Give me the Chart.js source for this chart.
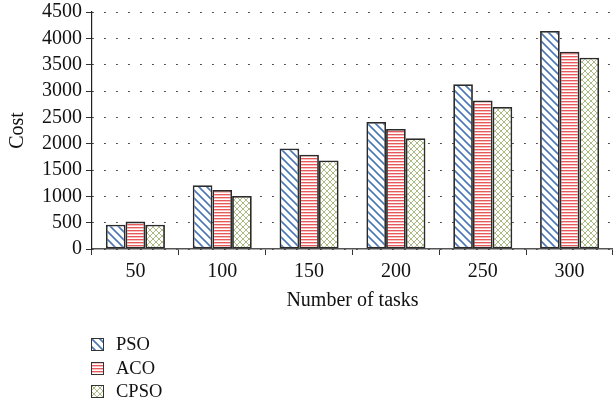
<!DOCTYPE html>
<html>
<head>
<meta charset="utf-8">
<script src="https://cdn.jsdelivr.net/npm/chart.js@4/dist/chart.umd.min.js"></script>
<style>
  html, body { margin: 0; padding: 0; background: #fff; overflow: hidden; }
  #wrap { position: relative; width: 613px; height: 411px; overflow: hidden; }
  #chart { position: absolute; left: 0; top: -4px; }
  #legend { position: absolute; left: 91px; top: 333px; font-family: "Liberation Serif", serif; font-size: 18.5px; color: #111; }
  .item { display: flex; align-items: center; height: 23.5px; }
  .item canvas { width: 13px; height: 13px; margin-right: 12px; }
</style>
</head>
<body>
<div id="wrap">
  <canvas id="chart" width="613" height="415"></canvas>
  <div id="legend"></div>
</div>
<script>
// Task counts on the x axis
const categories = ['50', '100', '150', '200', '250', '300'];
// Cost per algorithm
const psoCost  = [460, 1210, 1910, 2410, 3130, 4140];
const acoCost  = [520, 1120, 1790, 2280, 2820, 3745];
const cpsoCost = [460, 1005, 1680, 2105, 2695, 3630];
const seriesNames = ['PSO', 'ACO', 'CPSO'];

// Hatch fills -------------------------------------------------------------
function makeTile(w, h, paint) {
  const c = document.createElement('canvas');
  c.width = w; c.height = h;
  const g = c.getContext('2d');
  g.fillStyle = '#fff';
  g.fillRect(0, 0, w, h);
  paint(g, w, h);
  return c;
}
// blue back-slash diagonals
const psoTile = makeTile(8, 8, (g, w, h) => {
  g.strokeStyle = '#4a78b5';
  g.lineWidth = 1.6;
  g.beginPath();
  g.moveTo(-2, -2); g.lineTo(w + 2, h + 2);
  g.moveTo(-2 - w, -2); g.lineTo(2, h + 2);
  g.moveTo(w - 2, -2); g.lineTo(2 * w + 2, h + 2);
  g.stroke();
});
// red horizontal stripes
const acoTile = makeTile(4, 3, (g, w) => {
  g.fillStyle = '#e8595c';
  g.fillRect(0, 0, w, 1);
  g.fillStyle = '#f6c2c2';
  g.fillRect(0, 1, w, 1);
});
// olive cross hatch
const cpsoTile = makeTile(6, 6, (g, w, h) => {
  g.strokeStyle = '#a9bb83';
  g.lineWidth = 1;
  g.beginPath();
  g.moveTo(0, 0); g.lineTo(w, h);
  g.moveTo(w, 0); g.lineTo(0, h);
  g.stroke();
});

const ctx = document.getElementById('chart').getContext('2d');
const fills = [psoTile, acoTile, cpsoTile].map(t => ctx.createPattern(t, 'repeat'));
const values = [psoCost, acoCost, cpsoCost];

const serif = '"Liberation Serif", "Times New Roman", serif';

new Chart(ctx, {
  type: 'bar',
  data: {
    labels: categories,
    datasets: seriesNames.map((name, i) => ({
      label: name,
      data: values[i],
      backgroundColor: fills[i],
      borderColor: '#2b2b2b',
      borderWidth: 1.8,
      borderSkipped: false,
      categoryPercentage: 0.68,
      barPercentage: 1.0
    }))
  },
  options: {
    responsive: false,
    animation: false,
    layout: { padding: { left: 6, right: 0, top: 0, bottom: 98 } },
    plugins: {
      legend: { display: false },
      tooltip: { enabled: false }
    },
    scales: {
      x: {
        grid: {
          offset: true,
          drawOnChartArea: false,
          drawTicks: true,
          tickLength: 6,
          tickColor: '#333',
          tickWidth: 1
        },
        border: { color: '#555', width: 1.5 },
        ticks: {
          color: '#111',
          font: { family: serif, size: 20 },
          padding: 5
        },
        title: {
          display: true,
          text: 'Number of tasks',
          color: '#111',
          font: { family: serif, size: 20 },
          padding: { top: 0, bottom: 0 }
        }
      },
      y: {
        min: 0,
        max: 4500,
        ticks: {
          stepSize: 500,
          autoSkip: false,
          color: '#111',
          font: { family: serif, size: 20 },
          padding: 4,
          callback: v => String(v)
        },
        grid: {
          color: '#222',
          lineWidth: 1,
          tickLength: 6,
          tickColor: '#333',
          tickBorderDash: []
        },
        border: { color: '#222', width: 1.2, dash: [1.5, 10.5] },
        title: {
          display: true,
          text: 'Cost',
          color: '#111',
          font: { family: serif, size: 20 },
          padding: { top: 0, bottom: 8 }
        }
      }
    }
  }
});

// Legend listing, one series per row
const legend = document.getElementById('legend');
[psoTile, acoTile, cpsoTile].forEach((tile, i) => {
  const row = document.createElement('div');
  row.className = 'item';
  const sw = document.createElement('canvas');
  sw.width = 13; sw.height = 13;
  const s = sw.getContext('2d');
  s.fillStyle = s.createPattern(tile, 'repeat');
  s.fillRect(0, 0, 13, 13);
  s.strokeStyle = '#333';
  s.lineWidth = 1;
  s.strokeRect(0.5, 0.5, 12, 12);
  row.appendChild(sw);
  const label = document.createElement('span');
  label.textContent = seriesNames[i];
  row.appendChild(label);
  legend.appendChild(row);
});
</script>
</body>
</html>
